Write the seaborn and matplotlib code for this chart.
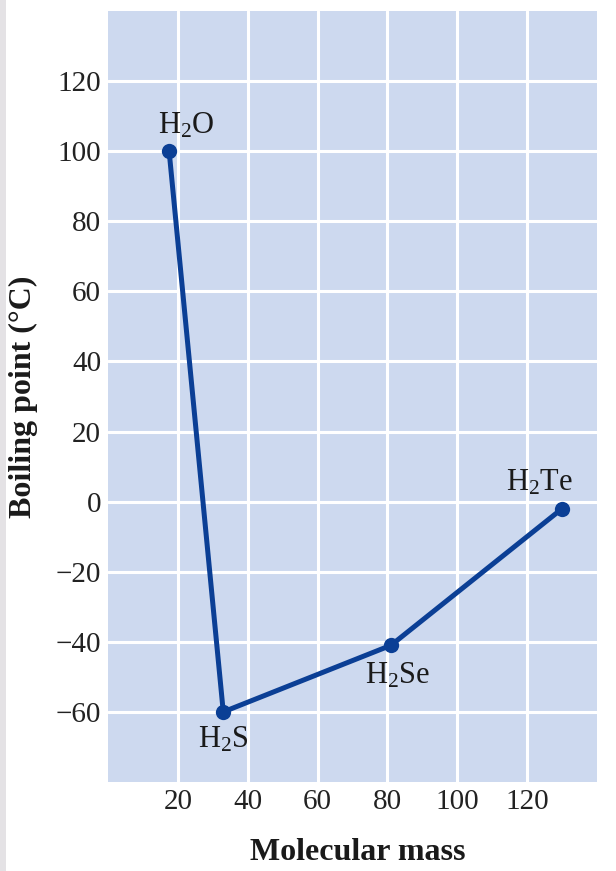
import seaborn as sns
import matplotlib.pyplot as plt
import pandas as pd
from matplotlib.patches import Rectangle

# boiling points of group 16 hydrides
compounds = ['H$_2$O', 'H$_2$S', 'H$_2$Se', 'H$_2$Te']
mass = [17.5, 33, 81, 130]
boiling = [100, -60, -41, -2]
label_offsets = [(12, 18), (0, -20), (5, -22), (-16, 19)]  # points

xticks = [20, 40, 60, 80, 100, 120]
yticks = [-60, -40, -20, 0, 20, 40, 60, 80, 100, 120]

df = pd.DataFrame({'compound': compounds, 'mass': mass, 'bp': boiling})

sns.set_theme(style="darkgrid", rc={
    'axes.facecolor': '#cdd9ef',
    'grid.color': 'white',
    'grid.linewidth': 2.2,
})
plt.rcParams['font.family'] = ['Liberation Serif', 'DejaVu Serif']
plt.rcParams['mathtext.fontset'] = 'custom'
plt.rcParams['mathtext.rm'] = 'Liberation Serif'
plt.rcParams['mathtext.it'] = 'Liberation Serif:italic'
plt.rcParams['mathtext.bf'] = 'Liberation Serif:bold'

fig = plt.figure(figsize=(6.16, 8.71), dpi=100, facecolor='white')
fig.patches.append(Rectangle((0, 0), 6 / 616, 1, transform=fig.transFigure,
                             facecolor='#e4e2e5', edgecolor='none', zorder=0))
ax = fig.add_axes([108 / 616, 89 / 871, 489 / 616, 771 / 871])

line_color = '#0b3f95'
sns.lineplot(data=df, x='mass', y='bp', sort=False, color=line_color,
             linewidth=3.6, marker='o', markersize=11, markeredgewidth=0,
             ax=ax)

for name, x, y, off in zip(compounds, mass, boiling, label_offsets):
    ax.annotate(name, (x, y), xytext=off, textcoords='offset points',
                ha='center', va='center', fontsize=22, color='#1a1a1a')

ax.set_xlim(0, 140)
ax.set_ylim(-80, 140)
ax.set_xticks(xticks)
ax.set_yticks(yticks)
ax.tick_params(axis='both', labelsize=21, length=0, colors='#222222')
ax.tick_params(axis='x', pad=5)
ax.tick_params(axis='y', pad=5)
for s in ax.spines.values():
    s.set_visible(False)

ax.set_xlabel('Molecular mass', fontsize=23, fontweight='bold', color='#1a1a1a')
ax.set_ylabel('Boiling point (°C)', fontsize=23, fontweight='bold', color='#1a1a1a')
ax.xaxis.set_label_coords(0.51, -0.072)
ax.yaxis.set_label_coords(-0.143, 0.5)

plt.savefig('out.png', dpi=100)
